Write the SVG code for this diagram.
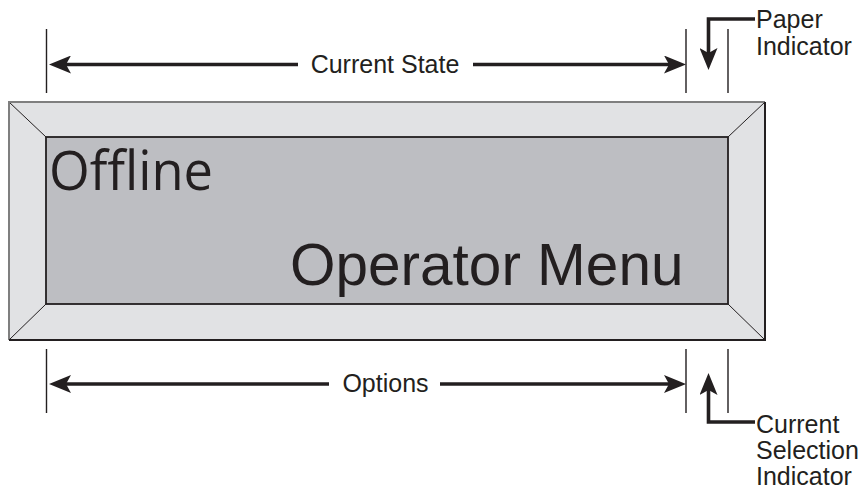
<svg xmlns="http://www.w3.org/2000/svg" width="867" height="490" viewBox="0 0 867 490">
<defs>
<style>
.lbl{font-family:"Liberation Sans",Arial,sans-serif;font-size:25px;fill:#231f20}
.big{font-family:"Liberation Sans",Arial,sans-serif;font-size:58.5px;fill:#231f20}
.off{font-family:"Open Sans","Noto Sans",sans-serif;font-size:54px;fill:#231f20}
.guide{stroke:#231f20;stroke-width:1.4;fill:none}
.arr{stroke:#231f20;stroke-width:3.6;fill:none}
.edge{stroke:#231f20;stroke-width:1;fill:none}
</style>
<marker id="ah" markerUnits="userSpaceOnUse" viewBox="0 0 22 18" refX="5" refY="9" markerWidth="22" markerHeight="18" orient="auto">
<path d="M0,0 L22,9 L0,18 L5,9 Z" fill="#231f20"/>
</marker>
</defs>
<rect width="867" height="490" fill="#ffffff"/>
<g id="display">
<rect x="9" y="102" width="756" height="238" fill="#e1e2e4"/>
<rect x="46" y="137" width="682" height="167" fill="#bdbec2" stroke="#231f20" stroke-width="1.8"/>
<path d="M9,102 L46,137 M765,102 L728,137 M9,340 L46,304 M765,340 L728,304" class="edge"/>
<path d="M9,340 L9,102 L765,102" stroke="#7f7f7f" stroke-width="2" fill="none"/>
<path d="M765,102 L765,340 L9,340" stroke="#231f20" stroke-width="2" fill="none"/>
<text class="off" x="49" y="190" textLength="164" lengthAdjust="spacingAndGlyphs">Offline</text>
<text class="big" x="290" y="285">Operator Menu</text>
</g>
<g id="connectors">
<path d="M46.5,29 V93 M686,29 V93 M728,29 V93" class="guide"/>
<path d="M46.5,349 V413 M686,349 V413 M728,349 V413" class="guide"/>
<path d="M298,64.5 H66" class="arr" marker-end="url(#ah)"/>
<path d="M473,64.5 H669" class="arr" marker-end="url(#ah)"/>
<path d="M329,384 H66" class="arr" marker-end="url(#ah)"/>
<path d="M440,384 H669" class="arr" marker-end="url(#ah)"/>
<path d="M755,19 H708.5 V53" class="arr" marker-end="url(#ah)"/>
<path d="M755,422 H708.5 V390" class="arr" marker-end="url(#ah)"/>
</g>
<g id="labels">
<text class="lbl" x="385" y="73" text-anchor="middle">Current State</text>
<text class="lbl" x="385.5" y="392" text-anchor="middle">Options</text>
<g id="paper-indicator">
<text class="lbl" x="756" y="28">Paper</text>
<text class="lbl" x="756" y="55">Indicator</text>
</g>
<g id="current-selection-indicator">
<text class="lbl" x="756" y="433">Current</text>
<text class="lbl" x="756" y="459">Selection</text>
<text class="lbl" x="756" y="485">Indicator</text>
</g>
</g>
</svg>
